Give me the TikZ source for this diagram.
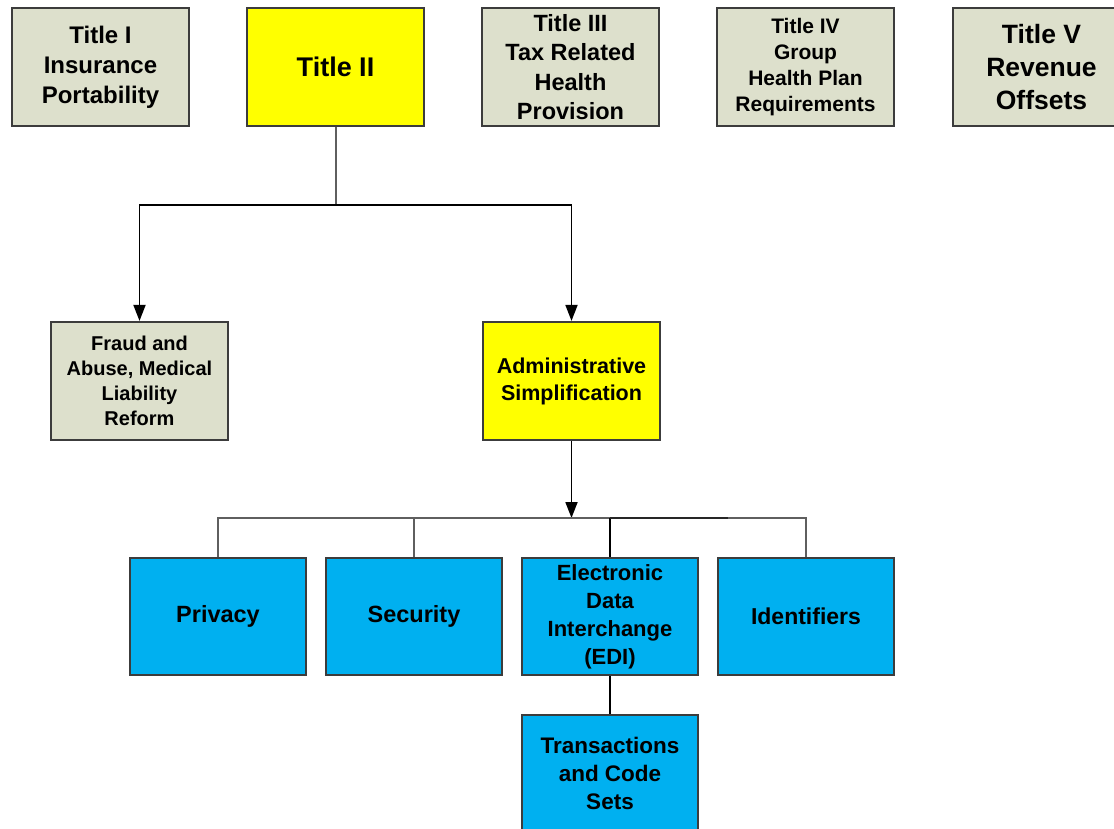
\documentclass[tikz,border=0pt]{standalone}
\usepackage{fontspec}
\setmainfont{Liberation Sans}
\usetikzlibrary{arrows.meta}
\definecolor{boxgray}{RGB}{221,224,204}
\definecolor{boxyellow}{RGB}{255,255,0}
\definecolor{boxblue}{RGB}{0,176,240}
\definecolor{edge}{RGB}{60,60,60}
\definecolor{connGray}{RGB}{95,95,95}
\tikzset{
  box/.style={draw=edge, line width=2.2pt, inner sep=0pt, align=center,
    minimum width=177pt, minimum height=118pt, font=\bfseries},
  graybox/.style={box, fill=boxgray},
  yellowbox/.style={box, fill=boxyellow},
  bluebox/.style={box, fill=boxblue, minimum width=176pt, minimum height=117pt},
  conn/.style={draw=connGray, line width=2pt},
  arrowline/.style={draw=black, line width=1.8pt, -{Triangle[length=16pt,width=12pt]}},
}
\begin{document}
\begin{tikzpicture}[x=1pt,y=-1pt]
\clip (0,0) rectangle (1114,829);
\fill[white] (0,0) rectangle (1114,829);
% top row
\node[graybox, font=\bfseries\fontsize{24}{30}\selectfont] (t1) at (100.5,67) {Title I\\Insurance\\Portability};
\node[yellowbox, font=\bfseries\fontsize{27}{33}\selectfont] (t2) at (335.5,67) {Title II};
\node[graybox, font=\bfseries\fontsize{23.5}{29.5}\selectfont] (t3) at (570.5,67) {Title III\\Tax Related\\Health\\Provision};
\node[graybox, font=\bfseries\fontsize{21}{26}\selectfont] (t4) at (805.5,67) {Title IV\\Group\\Health Plan\\Requirements};
\node[graybox, font=\bfseries\fontsize{26.5}{33}\selectfont] (t5) at (1041.5,67) {Title V\\Revenue\\Offsets};
% second row
\node[graybox, font=\bfseries\fontsize{20}{25}\selectfont] (fraud) at (139.5,381) {Fraud and\\Abuse, Medical\\Liability\\Reform};
\node[yellowbox, font=\bfseries\fontsize{21.5}{27}\selectfont] (admin) at (571.5,381) {Administrative\\Simplification};
% third row
\node[bluebox, font=\bfseries\fontsize{23.5}{28}\selectfont] (privacy) at (218,616.5) {Privacy};
\node[bluebox, font=\bfseries\fontsize{23.5}{28}\selectfont] (security) at (414,616.5) {Security};
\node[bluebox, font=\bfseries\fontsize{22}{28}\selectfont] (edi) at (610,616.5) {Electronic\\Data\\Interchange\\(EDI)};
\node[bluebox, font=\bfseries\fontsize{23}{28}\selectfont] (ident) at (806,616.5) {Identifiers};
\node[bluebox, font=\bfseries\fontsize{22.5}{28}\selectfont] (trans) at (610,773.5) {Transactions\\and Code\\Sets};
% connectors
\coordinate (j1) at (335.5,205);
\draw[conn] (t2.south) -- (j1);
\draw[arrowline] (j1) -| (fraud.north);
\draw[arrowline] (j1) -| (admin.north);
\coordinate (bus) at (571.5,518);
\draw[arrowline] (admin.south) -- (bus);
\draw[conn] (privacy.north) -- (privacy.north |- bus) -- (ident.north |- bus) -- (ident.north);
\draw[conn] (security.north) -- (security.north |- bus);
\draw[conn, draw=black] (edi.north) -- (edi.north |- bus);
\coordinate (busdark) at (728,518);
\draw[line width=2.2pt, draw=black!85] (edi.north |- bus) -- (busdark);
\draw[conn, draw=black] (edi.south) -- (trans.north);
\end{tikzpicture}
\end{document}
